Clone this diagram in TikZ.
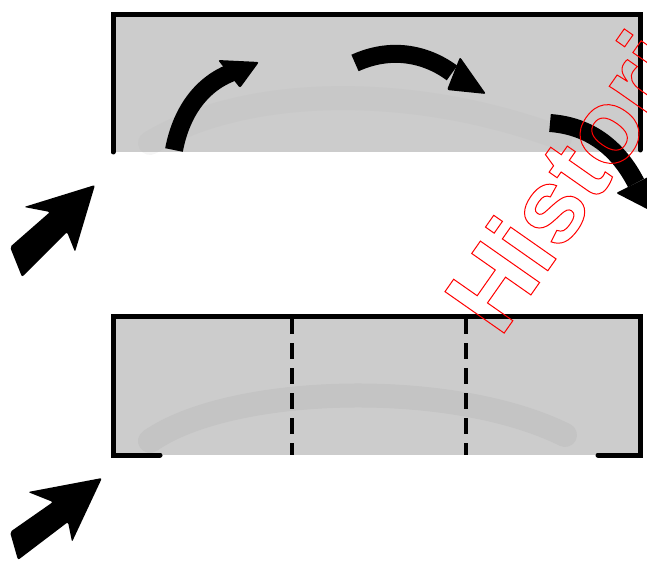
\documentclass[tikz,border=0pt]{standalone}
\usepackage{fontspec}
\setsansfont{Liberation Sans}
\usetikzlibrary{positioning}
\definecolor{papergray}{gray}{0.80}
\definecolor{papershade}{gray}{0.66}
\newcommand{\hollow}[1]{\special{pdf:literal direct 1 Tr 1 w}#1\special{pdf:literal direct 0 Tr}}
\tikzset
{
	paper/.style    = {fill=papergray, draw=none},
	shadeband/.style = {draw=papershade, line width=24pt, opacity=0.22, line cap=round},
	wall/.style     = {line width=5pt, line cap=round, line join=miter},
	foldline/.style = {line width=4.5pt, dash pattern=on 16pt off 9pt},
	turnarrow/.style = {line width=18pt, line cap=butt},
	pushtip/.style  = {fill=black, rounded corners=2pt},
	stamp/.style    = {text=red, font=\sffamily\bfseries\fontsize{105}{105}\selectfont, anchor=base west, rotate=55, inner sep=0pt}
}

\begin{document}
\begin{tikzpicture}[x=1pt, y=1pt]
\clip (0,0) rectangle (647,563);
\useasboundingbox (0,0) rectangle (647,563);

% upper sheet
\coordinate (up sw) at (113,411);
\coordinate (up nw) at (113,548);
\coordinate (up ne) at (640,548);
\coordinate (up se) at (640,413);
\fill[paper] (115,411) rectangle (638,546);
\draw[shadeband, opacity=0.1] (150,420) .. controls (250,480) and (420,478) .. (560,425);
\draw[wall] (up sw) -- (up nw) -- (up ne) -- (up se);

\draw[turnarrow] (174,413) .. controls (182,455) and (205,482) .. (236,492);
\fill[pushtip] (218,503) -- (259,501) -- (240,475) -- cycle;
\draw[turnarrow] (355,500) .. controls (390,516) and (425,510) .. (452,490);
\fill[pushtip] (460,506) -- (486,469) -- (447,473) -- cycle;
\draw[turnarrow] (550,440) .. controls (590,437) and (618,415) .. (636,380);
\fill[pushtip] (656,390) -- (651,352) -- (616,370) -- cycle;

% lower sheet
\coordinate (lo sw) at (113,108);
\coordinate (lo nw) at (113,247);
\coordinate (lo ne) at (640,247);
\coordinate (lo se) at (640,108);
\fill[paper] (115,108) rectangle (638,245);
\draw[shadeband] (150,122) .. controls (230,178) and (450,185) .. (565,128);
\draw[wall] (160,108) -- (lo sw) -- (lo nw) -- (lo ne) -- (lo se) -- (598,108);
\draw[foldline] (292,245) -- (292,108);
\draw[foldline] (466,245) -- (466,108);

% push arrows
\fill[pushtip] (10,316) -- (50,351) -- (24,356) -- (95,378) -- (75,311) -- (67,331) -- (22,286) -- cycle;
\fill[pushtip] (10,31) -- (53,61) -- (28,71) -- (102,85) -- (72,21) -- (68,41) -- (18,3) -- cycle;

\node[stamp] (stamp) at (500,224) {\hollow{Histori}};
\end{tikzpicture}
\end{document}
